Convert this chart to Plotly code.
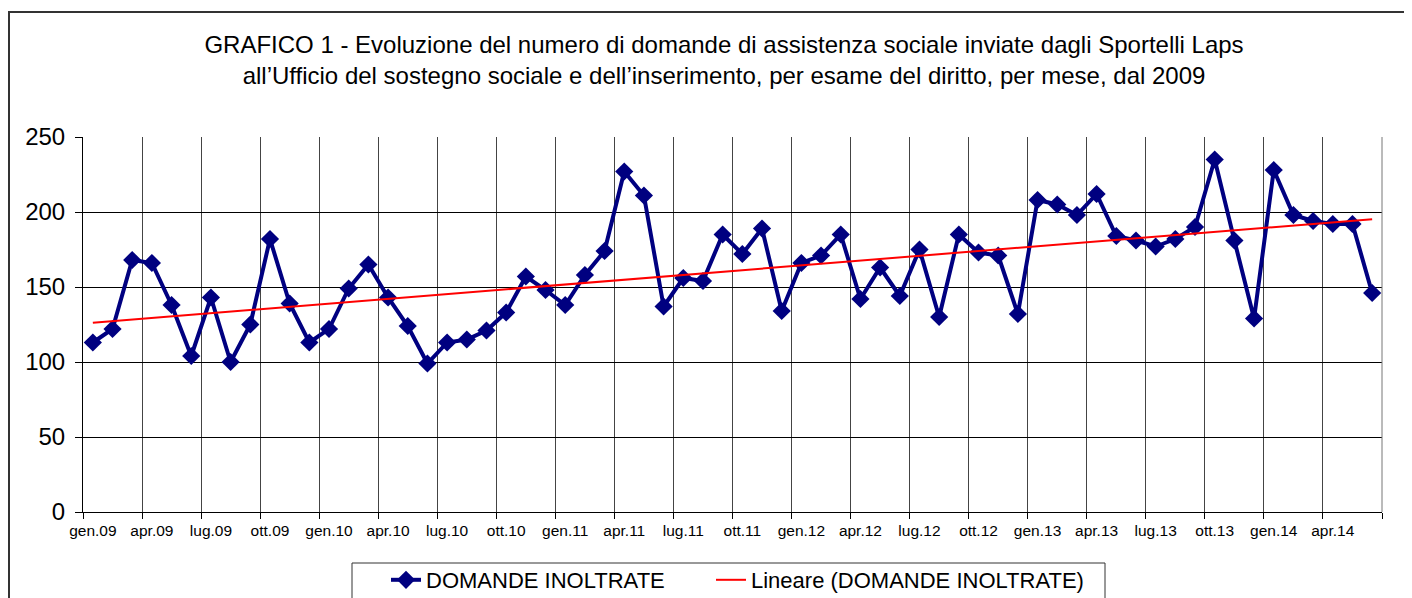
import numpy as np
import plotly.graph_objects as go

months = ["gen", "feb", "mar", "apr", "mag", "giu", "lug", "ago", "set", "ott", "nov", "dic"]
years = ["09", "10", "11", "12", "13", "14"]
categories = [f"{m}.{y}" for y in years for m in months][:66]

domande = [113, 122, 168, 166, 138, 104, 143, 100, 125, 182, 139, 113,
           122, 149, 165, 143, 124, 99, 113, 115, 121, 133, 157, 148,
           138, 158, 174, 227, 211, 137, 156, 154, 185, 172, 189, 134,
           166, 171, 185, 142, 163, 144, 175, 130, 185, 173, 171, 132,
           208, 205, 198, 212, 184, 181, 177, 182, 190, 235, 181, 129,
           228, 198, 194, 192, 192, 146]

x_idx = list(range(len(categories)))
coef = np.polyfit(x_idx, domande, 1)
trend = np.polyval(coef, x_idx)

tick_idx = x_idx[::3]
tick_text = [categories[i] for i in tick_idx]

FONT = "Liberation Sans, Arial, sans-serif"
# the page has an 8px body margin, so the figure is 8px smaller than the window
W, H = 1404, 590
L, R, T, B = 75, 1374, 129, 504

def px(x):
    return (x - L) / (R - L)

def py(y):
    return (B - y) / (B - T)

fig = go.Figure()
fig.add_trace(go.Scatter(
    x=x_idx, y=domande, name="DOMANDE INOLTRATE", mode="lines+markers",
    line=dict(color="#000080", width=4),
    marker=dict(symbol="diamond", size=14, color="#000080"),
    hoverinfo="skip", legend="legend"))
fig.add_trace(go.Scatter(
    x=x_idx, y=trend, name="Lineare (DOMANDE INOLTRATE)", mode="lines",
    line=dict(color="#ff0000", width=2), hoverinfo="skip", legend="legend2"))

leg_common = dict(orientation="h", xanchor="left", yref="container",
                  y=1 - 551 / H, yanchor="top",
                  font=dict(size=22, family=FONT, color="black"),
                  bgcolor="rgba(0,0,0,0)", borderwidth=0)

fig.update_layout(
    width=W, height=H,
    margin=dict(l=L, r=W - R, t=T, b=H - B, autoexpand=False),
    paper_bgcolor="white", plot_bgcolor="white",
    font=dict(family=FONT, color="black"),
    title=dict(
        text="GRAFICO 1 - Evoluzione del numero di domande di assistenza sociale inviate dagli Sportelli Laps<br>"
             "all\u2019Ufficio del sostegno sociale e dell\u2019inserimento, per esame del diritto, per mese, dal 2009",
        x=px(716), xref="paper", xanchor="center",
        y=1 - 45 / H, yref="container", yanchor="top",
        font=dict(size=24, family=FONT, color="black")),
    showlegend=True,
    legend=dict(x=px(378), **leg_common),
    legend2=dict(x=px(703), **leg_common),
    shapes=[
        dict(type="rect", xref="paper", yref="paper",
             x0=px(1), x1=px(1430), y0=py(640), y1=py(4),
             line=dict(color="#333", width=2), layer="below"),
        dict(type="rect", xref="paper", yref="paper",
             x0=px(344), x1=px(1097), y0=py(640), y1=py(555),
             line=dict(color="#333", width=1), layer="below"),
        dict(type="line", xref="paper", yref="paper", x0=1, x1=1, y0=0, y1=1,
             line=dict(color="#777", width=1)),
    ],
)

fig.update_xaxes(
    range=[-0.5, len(categories) - 0.5], automargin=False,
    tickmode="array", tickvals=tick_idx, ticktext=tick_text,
    ticks="", showgrid=False, zeroline=False,
    tickfont=dict(size=15.5, family=FONT, color="black"),
    ticklabelstandoff=4,
    showline=True, linecolor="black", linewidth=1,
    minor=dict(tick0=-0.5, dtick=3, showgrid=True, gridcolor="#444",
               gridwidth=1, ticks="outside", ticklen=6, tickcolor="black"),
)
fig.update_yaxes(
    range=[0, 250], tick0=0, dtick=50, automargin=False,
    showgrid=True, gridcolor="black", gridwidth=1, zeroline=False,
    ticks="outside", ticklen=7, tickcolor="black",
    tickfont=dict(size=24, family=FONT, color="black"),
    ticklabelstandoff=5,
    showline=True, linecolor="black", linewidth=1,
)

fig.write_html("out.html")
